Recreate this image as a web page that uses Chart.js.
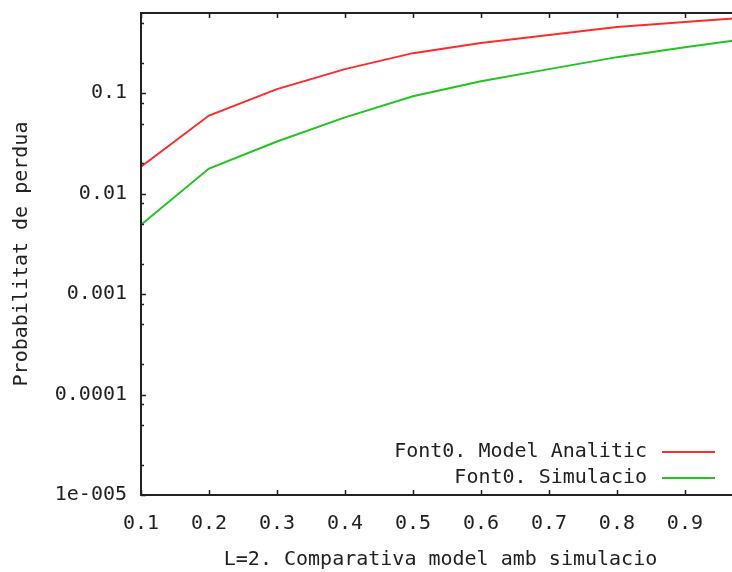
<!DOCTYPE html>
<html>
<head>
<meta charset="utf-8">
<script src="https://cdn.jsdelivr.net/npm/chart.js@4"></script>
<style>
    html, body { margin: 0; padding: 0; background: #fff; overflow: hidden; }
    #wrap { width: 746px; height: 572px; }
</style>
</head>
<body>
<div id="wrap"><canvas id="myChart" width="746" height="572"></canvas></div>
<script>
const xValues = [0.1, 0.2, 0.3, 0.4, 0.5, 0.6, 0.7, 0.8, 0.9, 1.0];
const modelAnalitic = [0.0186, 0.060, 0.110, 0.174, 0.251, 0.316, 0.380, 0.457, 0.513, 0.575];
const simulacio = [0.0049, 0.0178, 0.0331, 0.0575, 0.0933, 0.132, 0.174, 0.229, 0.288, 0.355];
const seriesLabels = ['Font0. Model Analitic', 'Font0. Simulacio'];

const xTicks = [0.1, 0.2, 0.3, 0.4, 0.5, 0.6, 0.7, 0.8, 0.9];
const yDecades = [1e-5, 1e-4, 1e-3, 1e-2, 1e-1];
const yTickLabels = ['1e-005', '0.0001', '0.001', '0.01', '0.1'];
const yMinorSteps = [2, 5, 8];

const FONT = "'DejaVu Sans Mono', monospace";
const INK = '#222';

const toPoints = (ys) => xValues.map((x, i) => ({ x: x, y: ys[i] }));

// gnuplot style frame, inward ticks and key
const framePlugin = {
    id: 'frame',
    afterDraw(chart) {
        const ctx = chart.ctx;
        const a = chart.chartArea;
        const xs = chart.scales.x;
        const ys = chart.scales.y;
        const keyRight = a.right - 25;
        ctx.save();
        ctx.strokeStyle = INK;
        ctx.lineWidth = 2;
        ctx.strokeRect(a.left, a.top, a.right - a.left, a.bottom - a.top);
        ctx.lineWidth = 1.5;
        ctx.beginPath();
        xs.ticks.forEach(t => {
            const px = Math.round(xs.getPixelForValue(t.value)) + 0.5;
            ctx.moveTo(px, a.bottom); ctx.lineTo(px, a.bottom - 5);
            ctx.moveTo(px, a.top); ctx.lineTo(px, a.top + 5);
        });
        ys.ticks.forEach(t => {
            const py = Math.round(ys.getPixelForValue(t.value)) + 0.5;
            const len = t.major ? 5 : 3;
            ctx.moveTo(a.left, py); ctx.lineTo(a.left + len, py);
            ctx.moveTo(a.right, py); ctx.lineTo(a.right - len, py);
        });
        ctx.stroke();

        // key
        ctx.font = '20px ' + FONT;
        ctx.textAlign = 'right';
        ctx.textBaseline = 'middle';
        chart.data.datasets.forEach((ds, i) => {
            const y = a.bottom - 43 + i * 26;
            ctx.fillStyle = INK;
            ctx.fillText(ds.label, keyRight - 68, y);
            ctx.strokeStyle = ds.borderColor;
            ctx.lineWidth = 2;
            ctx.beginPath();
            ctx.moveTo(keyRight - 53, y);
            ctx.lineTo(keyRight, y);
            ctx.stroke();
        });
        ctx.restore();
    }
};

new Chart(document.getElementById('myChart'), {
    type: 'line',
    data: {
        datasets: [{
            label: seriesLabels[0],
            data: toPoints(modelAnalitic),
            borderColor: '#ff2a2a',
            borderWidth: 2,
            pointRadius: 0,
            tension: 0
        }, {
            label: seriesLabels[1],
            data: toPoints(simulacio),
            borderColor: '#22c422',
            borderWidth: 2,
            pointRadius: 0,
            tension: 0
        }]
    },
    options: {
        responsive: false,
        animation: false,
        layout: { padding: { top: 13, right: 6, left: 0, bottom: 0 } },
        plugins: {
            legend: { display: false },
            tooltip: { enabled: false }
        },
        scales: {
            x: {
                type: 'linear',
                min: 0.1,
                max: 0.981,
                afterBuildTicks: (scale) => {
                    scale.ticks = xTicks.map(v => ({ value: v }));
                },
                afterFit: (scale) => {
                    scale.height = 77;
                    scale.paddingLeft = 0;
                    scale.paddingRight = 0;
                },
                grid: { display: false, drawTicks: false },
                border: { display: false },
                ticks: {
                    padding: 17,
                    color: INK,
                    font: { family: FONT, size: 20 },
                    callback: (v) => Number(v).toFixed(1)
                },
                title: {
                    display: true,
                    text: 'L=2. Comparativa model amb simulacio',
                    color: INK,
                    font: { family: FONT, size: 20 },
                    padding: { top: 0, bottom: 0 }
                }
            },
            y: {
                type: 'logarithmic',
                min: 1e-5,
                max: 0.63,
                afterBuildTicks: (scale) => {
                    const ticks = [];
                    yDecades.forEach(d => {
                        ticks.push({ value: d, major: true });
                        yMinorSteps.forEach(m => {
                            if (m * d <= scale.max) ticks.push({ value: m * d, major: false });
                        });
                    });
                    scale.ticks = ticks;
                },
                afterFit: (scale) => {
                    scale.width = 141;
                    scale.paddingTop = 0;
                    scale.paddingBottom = 0;
                },
                grid: { display: false, drawTicks: false },
                border: { display: false },
                ticks: {
                    padding: 14,
                    color: INK,
                    autoSkip: false,
                    font: { family: FONT, size: 20 },
                    callback: (v) => {
                        const i = yDecades.findIndex(d => Math.abs(d - v) / d < 1e-6);
                        return i >= 0 ? yTickLabels[i] : '';
                    }
                },
                title: {
                    display: true,
                    text: 'Probabilitat de perdua',
                    color: INK,
                    font: { family: FONT, size: 20 },
                    padding: { top: 10, bottom: 0 }
                }
            }
        }
    },
    plugins: [framePlugin]
});
</script>
</body>
</html>
